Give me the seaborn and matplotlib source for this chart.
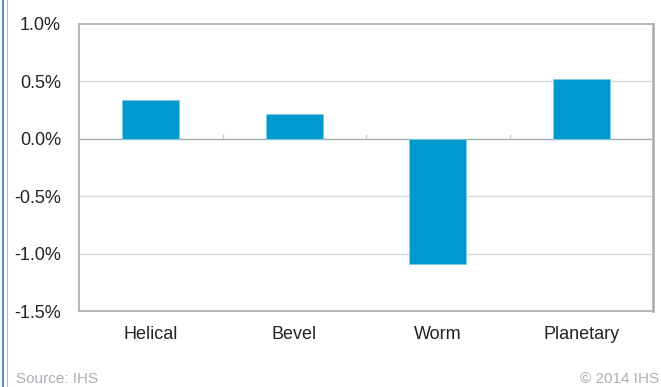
import matplotlib
matplotlib.use("Agg")
import matplotlib.pyplot as plt
import seaborn as sns
import pandas as pd
from matplotlib.ticker import FuncFormatter
from matplotlib.lines import Line2D

categories = ["Helical", "Bevel", "Worm", "Planetary"]
values = [0.34, 0.22, -1.09, 0.52]
y_ticks = [-1.5, -1.0, -0.5, 0.0, 0.5, 1.0]

sns.set_theme(style="white")
plt.rcParams['font.family'] = ['Liberation Sans', 'DejaVu Sans']

df = pd.DataFrame({"type": categories, "value": values})

fig = plt.figure(figsize=(6.61, 3.87), dpi=100)
ax = fig.add_axes([79/661, 1-311/387, (653-79)/661, (311-24)/387])

sns.barplot(data=df, x="type", y="value", color="#0099CF", width=0.4,
            saturation=1, ax=ax, zorder=3, edgecolor="#7FCBEA", linewidth=0.6)

ax.set_ylim(-1.5, 1.0)
ax.set_xlim(-0.5, 3.5)
ax.set_yticks(y_ticks)
ax.yaxis.set_major_formatter(FuncFormatter(lambda v, p: f"{v:.1f}%"))
ax.set_xlabel("")
ax.set_ylabel("")

for t in y_ticks:
    if t in (-1.5, 1.0):
        continue
    if t == 0.0:
        ax.axhline(t, color="#A3ABAE", lw=1.0, zorder=2)
    else:
        ax.axhline(t, color="#D3DADA", lw=1.0, zorder=1)

# small category separator ticks on the zero line
ax.vlines([0.5, 1.5, 2.5], 0, 0.04, color="#C8CCCC", lw=1.0, zorder=2)

for s in ["left", "bottom", "top"]:
    ax.spines[s].set_color("#ABABAB")
    ax.spines[s].set_linewidth(1.2)
ax.spines["right"].set_color("#ABABAB")
ax.spines["right"].set_linewidth(1.8)

ax.tick_params(axis="y", length=0, pad=13, labelsize=13, labelcolor="#222222")
ax.tick_params(axis="x", length=0, pad=11, labelsize=13, labelcolor="#222222")

# left border lines of the figure
fig.add_artist(Line2D([2.5/661, 2.5/661], [0, 1], color="#3A7FC0", lw=1.2))
fig.add_artist(Line2D([7/661, 7/661], [0, 1], color="#B8BEC4", lw=0.8))

fig.text(16/661, 1-372/387, "Source: IHS", color="#A9B0B6", fontsize=11, va="top", ha="left")
fig.text(659/661, 1-372/387, "© 2014 IHS", color="#A9B0B6", fontsize=11, va="top", ha="right")

fig.savefig("out.png", dpi=100)
